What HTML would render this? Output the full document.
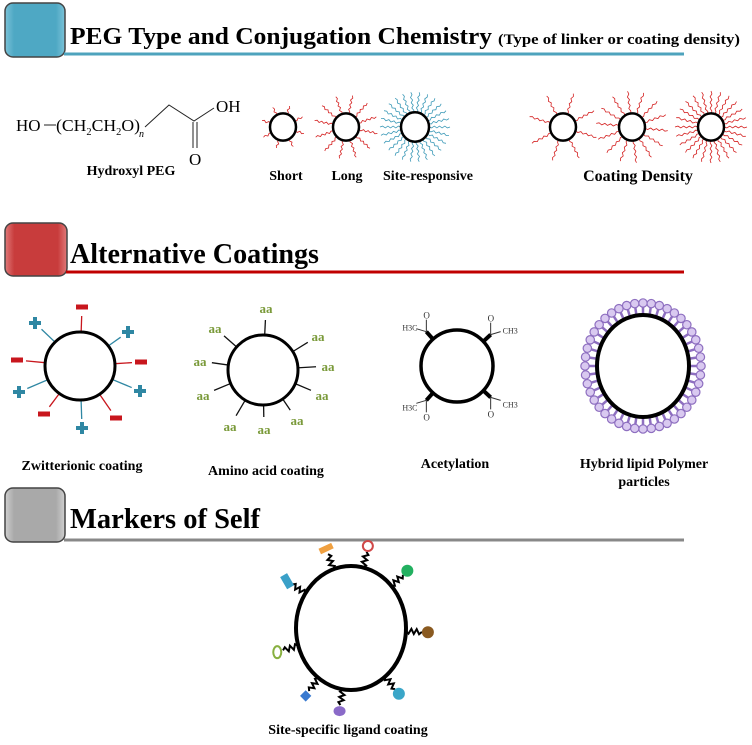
<!DOCTYPE html>
<html><head><meta charset="utf-8">
<style>
html,body{margin:0;padding:0;background:#fff;}
svg{display:block;}
text{font-family:"Liberation Serif",serif;font-weight:bold;fill:#000;}
</style></head>
<body>
<svg id="s" width="752" height="745" viewBox="0 0 752 745" xmlns="http://www.w3.org/2000/svg">
<defs>
<linearGradient id="gb" x1="0" x2="1"><stop offset="0" stop-color="#7cc3d8"/><stop offset="0.15" stop-color="#4ea8c4"/><stop offset="0.85" stop-color="#4ea8c4"/><stop offset="1" stop-color="#7cc3d8"/></linearGradient>
<linearGradient id="gr" x1="0" x2="1"><stop offset="0" stop-color="#e07a7a"/><stop offset="0.15" stop-color="#c83c3c"/><stop offset="0.85" stop-color="#c83c3c"/><stop offset="1" stop-color="#e07a7a"/></linearGradient>
<linearGradient id="gg" x1="0" x2="1"><stop offset="0" stop-color="#d0d0d0"/><stop offset="0.15" stop-color="#a9a9a9"/><stop offset="0.85" stop-color="#a9a9a9"/><stop offset="1" stop-color="#d0d0d0"/></linearGradient>
</defs>

<rect x="5" y="3" width="60" height="54" rx="8" fill="url(#gb)" stroke="#444" stroke-width="1.5"/>
<line x1="64" y1="54" x2="684" y2="54" stroke="#4ea3bd" stroke-width="3"/>
<text x="70" y="44" font-size="24" textLength="422" lengthAdjust="spacingAndGlyphs">PEG Type and Conjugation Chemistry</text>
<text x="498" y="44" font-size="15" textLength="242" lengthAdjust="spacingAndGlyphs">(Type of linker or coating density)</text>

<g>
<text x="16" y="131" font-size="17" style="font-weight:normal">HO</text>
<line x1="44" y1="125" x2="56" y2="125" stroke="#222" stroke-width="1"/>
<text x="56" y="131" font-size="17" style="font-weight:normal" textLength="84" lengthAdjust="spacingAndGlyphs">(CH<tspan font-size="10" dy="4">2</tspan><tspan dy="-4">CH</tspan><tspan font-size="10" dy="4">2</tspan><tspan dy="-4">O)</tspan></text>
<text x="139" y="137" font-size="10" style="font-weight:normal;font-style:italic">n</text>
<polyline points="145,127 169,105 194,121 214,108" fill="none" stroke="#222" stroke-width="1"/>
<line x1="193" y1="122" x2="193" y2="148" stroke="#222" stroke-width="1"/>
<line x1="197" y1="122" x2="197" y2="148" stroke="#222" stroke-width="1"/>
<text x="216" y="112" font-size="17" style="font-weight:normal">OH</text>
<text x="189" y="165" font-size="17" style="font-weight:normal">O</text>
</g>
<text x="131" y="175" font-size="14" text-anchor="middle">Hydroxyl PEG</text>
<text x="286" y="180" font-size="14" text-anchor="middle">Short</text>
<text x="347" y="180" font-size="14" text-anchor="middle">Long</text>
<text x="428" y="180" font-size="14" text-anchor="middle">Site-responsive</text>
<text x="638" y="181" font-size="16" text-anchor="middle">Coating Density</text>

<rect x="5" y="223" width="62" height="53" rx="8" fill="url(#gr)" stroke="#444" stroke-width="1.5"/>
<line x1="66" y1="272" x2="684" y2="272" stroke="#c00000" stroke-width="3"/>
<text x="70" y="263" font-size="28" textLength="249" lengthAdjust="spacingAndGlyphs">Alternative Coatings</text>
<text x="82" y="470" font-size="14" text-anchor="middle">Zwitterionic coating</text>
<text x="266" y="475" font-size="14" text-anchor="middle">Amino acid coating</text>
<text x="455" y="468" font-size="14" text-anchor="middle">Acetylation</text>
<text x="644" y="468" font-size="14" text-anchor="middle">Hybrid lipid Polymer</text>
<text x="644" y="486" font-size="14" text-anchor="middle">particles</text>

<rect x="5" y="488" width="60" height="54" rx="8" fill="url(#gg)" stroke="#444" stroke-width="1.5"/>
<line x1="64" y1="540" x2="684" y2="540" stroke="#888" stroke-width="3"/>
<text x="70" y="528" font-size="28" textLength="190" lengthAdjust="spacingAndGlyphs">Markers of Self</text>
<text x="348" y="734" font-size="14" text-anchor="middle">Site-specific ligand coating</text>

<g id="dyn"></g>
</svg>
<script>
var NS="http://www.w3.org/2000/svg",g=document.getElementById("dyn");
function el(t,a){var e=document.createElementNS(NS,t);for(var k in a)e.setAttribute(k,a[k]);g.appendChild(e);return e;}
function wave(cx,cy,r0,r1,ang,col,amp,w,n){var d="";n=n||8;for(var i=0;i<=n;i++){var t=i/n,r=r0+(r1-r0)*t,off=(i%2?amp:-amp)*(i==0||i==n?0:1);var x=cx+r*Math.cos(ang)-off*Math.sin(ang),y=cy+r*Math.sin(ang)+off*Math.cos(ang);d+=(i?"L":"M")+x.toFixed(1)+","+y.toFixed(1);}el("path",{d:d,fill:"none",stroke:col,"stroke-width":w||1});}
function circ(cx,cy,rx,ry,w){el("ellipse",{cx:cx,cy:cy,rx:rx,ry:ry,fill:"#fff",stroke:"#000","stroke-width":w});}
function peg(cx,cy,r,n,len,col,off,seg){for(var i=0;i<n;i++){var a=(i/n)*2*Math.PI+(off||0);wave(cx,cy,r,r+len,a,col,0.9,0.8,seg);}circ(cx,cy,r,r*1.05,2.5);}
peg(283,127,13,8,9,"#d42020",0.3,4);
peg(346,127,13,12,19,"#d42020",0.2,8);
peg(415,127,14,26,21,"#3d9ab8",0,8);
peg(563,127,13,8,22,"#d42020",0.3,8);
peg(632,127,13,14,23,"#d42020",0.1,8);
peg(711,127,13,24,23,"#d42020",0,8);

var zc=[80,366],zs=[["-",82,307],["+",35,323],["+",128,332],["-",17,360],["-",141,362],["+",19,392],["+",140,391],["-",44,414],["-",116,418],["+",82,428]];
zs.forEach(function(s){var dx=s[1]-zc[0],dy=s[2]-zc[1],L=Math.sqrt(dx*dx+dy*dy),ux=dx/L,uy=dy/L;var col=s[0]=="-"?"#c8161d":"#2f87a3";
el("line",{x1:zc[0]+ux*35,y1:zc[1]+uy*35,x2:zc[0]+ux*(L-9),y2:zc[1]+uy*(L-9),stroke:col,"stroke-width":1.3});
if(s[0]=="-")el("rect",{x:s[1]-6,y:s[2]-2.5,width:12,height:5,fill:col});
else{el("rect",{x:s[1]-6,y:s[2]-2,width:12,height:4,fill:col});el("rect",{x:s[1]-2,y:s[2]-6,width:4,height:12,fill:col});}});
circ(80,366,35,34,3);

var ac=[263,370],aas=[[266,308],[215,328],[318,336],[200,361],[328,366],[203,395],[322,395],[230,426],[264,429],[297,420]];
aas.forEach(function(p){var dx=p[0]-ac[0],dy=p[1]-ac[1],L=Math.sqrt(dx*dx+dy*dy),ux=dx/L,uy=dy/L;
el("line",{x1:ac[0]+ux*34,y1:ac[1]+uy*34,x2:ac[0]+ux*(L-12),y2:ac[1]+uy*(L-12),stroke:"#111","stroke-width":1.3});
var t=el("text",{x:p[0],y:p[1]+5,"font-size":13,"text-anchor":"middle",style:"fill:#7a9a3a"});t.textContent="aa";});
circ(263,370,35,35,3);

var cc=[457,366];
[[-2.3,"H3C"],[-0.75,"CH3"],[0.75,"CH3"],[2.3,"H3C"]].forEach(function(q){var a=q[0],ux=Math.cos(a),uy=Math.sin(a);
var x1=cc[0]+ux*34,y1=cc[1]+uy*34,x2=cc[0]+ux*46,y2=cc[1]+uy*46;
el("line",{x1:x1,y1:y1,x2:x2,y2:y2,stroke:"#000","stroke-width":4});
el("line",{x1:x2,y1:y2,x2:x2+10*Math.sign(ux),y2:y2+(uy<0?-3:3),stroke:"#333","stroke-width":1});
el("line",{x1:x2,y1:y2,x2:x2,y2:y2+(uy<0?-12:12),stroke:"#333","stroke-width":1});
var to=el("text",{x:x2-3,y:y2+(uy<0?-13:20),"font-size":9,style:"font-weight:normal;fill:#333"});to.textContent="O";
var tt=el("text",{x:x2+(ux<0?-24:12),y:y2+(uy<0?-1:10),"font-size":8,style:"font-weight:normal;fill:#333"});tt.textContent=q[1];});
circ(457,366,36,36,3.5);

var hc=[643,366],N=44;
for(var i=0;i<N;i++){var a=i/N*2*Math.PI,ux=Math.cos(a),uy=Math.sin(a);
el("line",{x1:hc[0]+ux*45,y1:hc[1]+uy*50,x2:hc[0]+ux*55,y2:hc[1]+uy*60,stroke:"#8e6fc0","stroke-width":2.5});
el("circle",{cx:hc[0]+ux*58,cy:hc[1]+uy*63,r:4.2,fill:"#d9c9f0",stroke:"#8e6fc0","stroke-width":1.2});}
circ(643,366,46,51,4);

var mc=[351,628],RX=55,RY=62;
var ligs=[[-1.9,"#f0a040","arrow"],[-1.35,"#d04848","ring"],[-0.75,"#22b060","star"],[0.05,"#8a5a20","hex"],[0.9,"#3aa6c8","star"],[1.72,"#8a6ac8","oval"],[2.2,"#3a7ad0","dia"],[2.85,"#88b040","ring2"],[-2.55,"#3aa0c8","rect"]];
ligs.forEach(function(l){var a=l[0],ux=Math.cos(a),uy=Math.sin(a);
var x1=mc[0]+ux*RX,y1=mc[1]+uy*RY,x2=mc[0]+ux*(RX+16),y2=mc[1]+uy*(RY+16);
var d="",n=6;for(var i=0;i<=n;i++){var t=i/n,x=x1+(x2-x1)*t,y=y1+(y2-y1)*t,o=(i%2?2.5:-2.5)*(i==0||i==n?0:1);d+=(i?"L":"M")+(x-o*uy).toFixed(1)+","+(y+o*ux).toFixed(1);}
el("path",{d:d,fill:"none",stroke:"#000","stroke-width":2});
var hx=mc[0]+ux*(RX+22),hy=mc[1]+uy*(RY+22);
if(l[2]=="ring")el("circle",{cx:hx,cy:hy,r:5,fill:"#fff",stroke:l[1],"stroke-width":2});
else if(l[2]=="ring2")el("ellipse",{cx:hx,cy:hy,rx:4,ry:6,fill:"#fff",stroke:l[1],"stroke-width":2});
else if(l[2]=="oval")el("ellipse",{cx:hx,cy:hy,rx:6,ry:5,fill:l[1]});
else if(l[2]=="dia")el("rect",{x:hx-4,y:hy-4,width:8,height:8,fill:l[1],transform:"rotate(45 "+hx+" "+hy+")"});
else if(l[2]=="rect")el("rect",{x:hx-4,y:hy-7,width:8,height:14,fill:l[1],transform:"rotate(-30 "+hx+" "+hy+")"});
else if(l[2]=="arrow")el("rect",{x:hx-7,y:hy-3,width:14,height:6,fill:l[1],transform:"rotate(-25 "+hx+" "+hy+")"});
else el("circle",{cx:hx,cy:hy,r:6,fill:l[1]});});
circ(351,628,RX,RY,4);
</script>
</body></html>
